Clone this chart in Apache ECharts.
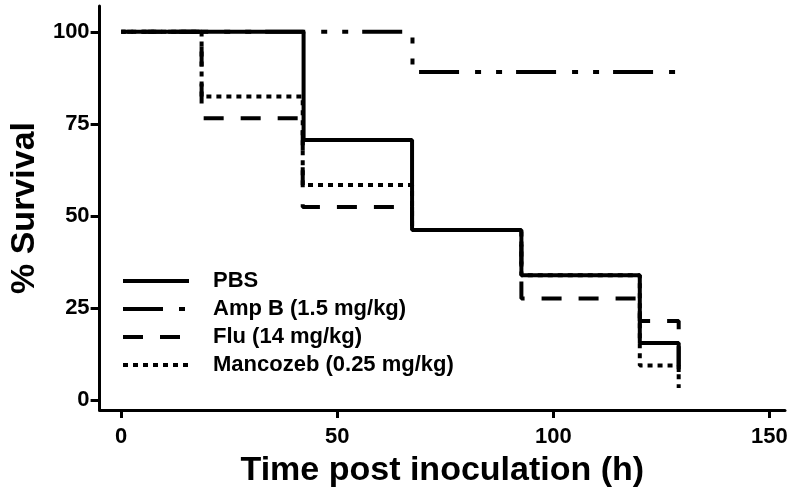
<!DOCTYPE html>
<html>
<head>
<meta charset="utf-8">
<title>% Survival</title>
<script src="https://cdn.jsdelivr.net/npm/echarts@6/dist/echarts.min.js"></script>
<style>
  html, body { margin: 0; padding: 0; background: #fff; }
  #chart { width: 800px; height: 499px; }
</style>
</head>
<body>
<div id="chart"></div>
<script>
// step points: time (h) and % survival after the step
const seriesNames = ['PBS', 'Amp B (1.5 mg/kg)', 'Flu (14 mg/kg)', 'Mancozeb (0.25 mg/kg)'];

const pbsTime = [0, 42.2, 67.3, 92.6, 120, 129];
const pbsSurv = [100, 70.6, 46.2, 33.9, 15.5, 7.6];

const ampTime = [0, 67.4, 129];
const ampSurv = [100, 89.1, 89.1];

const fluTime = [0, 18.6, 42.0, 67.3, 92.6, 120, 129];
const fluSurv = [100, 76.5, 52.4, 46.2, 27.6, 21.5, 7.6];

const mancTime = [0, 18.6, 42.0, 67.3, 92.6, 120, 129];
const mancSurv = [100, 82.4, 58.4, 46.2, 33.9, 9.4, 3.3];

const xTicks = [0, 50, 100, 150];
const yTicks = [0, 25, 50, 75, 100];

const black = '#000';
const font = { color: black, fontFamily: 'Liberation Sans, Arial, sans-serif', fontWeight: 'bold' };

// line patterns (solid / dash-dot / dashed / dotted)
const lineTypes = [
  { type: 'solid', dashOffset: 0 },
  { type: [40, 16, 6, 15, 6, 14], dashOffset: 50 },
  { type: [20, 17], dashOffset: 16 },
  { type: [5, 5], dashOffset: 0 }
];

const pairs = (t, v) => t.map((x, i) => [x, v[i]]);
const allData = [
  pairs(pbsTime, pbsSurv),
  pairs(ampTime, ampSurv),
  pairs(fluTime, fluSurv),
  pairs(mancTime, mancSurv)
];

const chart = echarts.init(document.getElementById('chart'));

chart.setOption({
  animation: false,
  backgroundColor: '#fff',
  grid: { left: 83, right: 15, top: 6, bottom: 89 },
  legend: {
    orient: 'vertical',
    left: 121,
    top: 270,
    padding: 0,
    itemWidth: 66,
    itemHeight: 14,
    itemGap: 6,
    itemStyle: { opacity: 0 },   // hide the circle, keep the line
    lineStyle: { width: 4 },
    textStyle: { ...font, fontSize: 22, padding: [0, 0, 0, 19] },
    data: seriesNames.map(n => ({ name: n, lineStyle: { width: 4, dashOffset: 0 } }))
  },
  xAxis: {
    type: 'value',
    min: -5,
    max: 153.6,
    name: 'Time post inoculation (h)',
    nameLocation: 'middle',
    nameGap: 44,
    nameTextStyle: { ...font, fontSize: 34 },
    axisLine: { onZero: false, lineStyle: { color: black, width: 3 } },
    axisTick: { customValues: xTicks, length: 8, lineStyle: { color: black, width: 3 } },
    axisLabel: { customValues: xTicks, margin: 16, fontSize: 22, ...font },
    splitLine: { show: false }
  },
  yAxis: {
    type: 'value',
    min: -2.7,
    max: 107,
    name: '% Survival',
    nameLocation: 'middle',
    nameGap: 47,
    nameTextStyle: { ...font, fontSize: 34 },
    axisLine: { show: true, onZero: false, lineStyle: { color: black, width: 3 } },
    axisTick: { show: true, customValues: yTicks, length: 9, lineStyle: { color: black, width: 3 } },
    axisLabel: { customValues: yTicks, margin: 10, fontSize: 22, ...font },
    splitLine: { show: false }
  },
  series: seriesNames.map((name, i) => ({
    name: name,
    type: 'line',
    step: 'end',
    symbol: 'none',
    data: allData[i],
    lineStyle: { color: black, width: 4, type: lineTypes[i].type, dashOffset: lineTypes[i].dashOffset, cap: 'butt' },
    itemStyle: { color: black }
  }))
});
</script>
</body>
</html>
